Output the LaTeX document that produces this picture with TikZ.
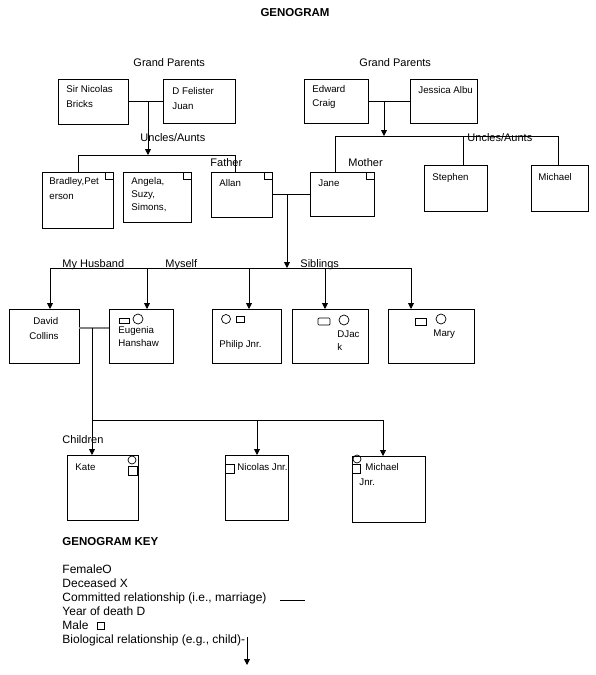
\documentclass[tikz,border=0pt]{standalone}
\usepackage{fontspec}
\setmainfont{Liberation Sans}
\usetikzlibrary{arrows.meta}
\begin{document}
\begin{tikzpicture}[x=1pt,y=-1pt,line width=0.9pt,
  pbox/.style={draw, anchor=north west, inner sep=0pt, outer sep=0pt},
  bt/.style={anchor=base west, inner sep=0pt, font=\fontsize{9.7}{11}\selectfont},
  lt/.style={anchor=base west, inner sep=0pt, font=\fontsize{11}{13}\selectfont},
  kt/.style={anchor=base west, inner sep=0pt, font=\fontsize{12}{13}\selectfont},
  arr/.style={-{Triangle[length=6pt,width=6pt]}},
  marr/.style={draw=gray, line width=1.5pt},
  sym/.style={line width=0.7pt}]
\useasboundingbox (0,0) rectangle (595,675);
\fill[white] (0,0) rectangle (595,675);

% title
\node[anchor=base, inner sep=0pt, font=\bfseries\fontsize{11.5}{13}\selectfont] (title) at (295,16) {GENOGRAM};

% grandparents
\node[lt] (gpl) at (133,66) {Grand Parents};
\node[lt] (gpr) at (359,66) {Grand Parents};
\node[pbox, minimum width=70pt, minimum height=45pt] (snb) at (58,79) {};
\node[pbox, minimum width=72pt, minimum height=44pt] (dfj) at (163,79) {};
\node[pbox, minimum width=64pt, minimum height=44pt] (ec) at (304,79) {};
\node[pbox, minimum width=67pt, minimum height=44pt] (ja) at (410,79) {};
\node[bt] (tsnb1) at (66,92) {Sir Nicolas};
\node[bt] (tsnb2) at (66,107) {Bricks};
\node[bt] (tdfj1) at (172,94) {D Felister};
\node[bt] (tdfj2) at (172,109) {Juan};
\node[bt] (tec1) at (312,92) {Edward};
\node[bt] (tec2) at (312,106) {Craig};
\node[bt] (tja) at (418,93) {Jessica Albu};

% parents generation
\node[lt] (ula) at (140,141) {Uncles/Aunts};
\node[lt] (fat) at (210,166) {Father};
\node[lt] (ura) at (467,141) {Uncles/Aunts};
\node[lt] (mot) at (348,166) {Mother};
\node[pbox, minimum width=71pt, minimum height=56pt] (bradley) at (42,172) {};
\node[pbox, minimum width=68pt, minimum height=50pt] (angela) at (123,172) {};
\node[pbox, minimum width=61pt, minimum height=45pt] (allan) at (211,172) {};
\node[pbox, minimum width=64pt, minimum height=44pt] (jane) at (310,172) {};
\node[pbox, minimum width=63pt, minimum height=46pt] (stephen) at (424,165) {};
\node[pbox, minimum width=57pt, minimum height=46pt] (michael) at (531,165) {};
\foreach \b in {bradley,angela,allan,jane}
  \draw[line width=0.7pt] ([xshift=-8pt]\b.north east) -- ++(0,7) -- ++(8,0);
\node[bt] (tbr1) at (49,184) {Bradley,Pet};
\node[bt] (tbr2) at (49,199) {erson};
\node[bt] (tan1) at (131,184) {Angela,};
\node[bt] (tan2) at (131,197) {Suzy,};
\node[bt] (tan3) at (131,210) {Simons,};
\node[bt] (tal) at (219,186) {Allan};
\node[bt] (tja2) at (318,186) {Jane};
\node[bt] (tst) at (432,180) {Stephen};
\node[bt] (tmi) at (538,180) {Michael};

% my generation
\node[lt] (lhus) at (62,267) {My Husband};
\node[lt] (lmys) at (165,267) {Myself};
\node[lt] (lsib) at (300,267) {Siblings};
\node[pbox, minimum width=70pt, minimum height=54pt] (david) at (9,309) {};
\node[pbox, minimum width=64pt, minimum height=54pt] (eugenia) at (109,309) {};
\node[pbox, minimum width=69pt, minimum height=54pt] (philip) at (212,309) {};
\node[pbox, minimum width=76pt, minimum height=54pt] (djack) at (292,309) {};
\node[pbox, minimum width=86pt, minimum height=54pt] (mary) at (388,309) {};
\node[bt] (tda1) at (33,324) {David};
\node[bt] (tda2) at (29,339) {Collins};
\node[bt] (teu1) at (118,333) {Eugenia};
\node[bt] (teu2) at (118,346) {Hanshaw};
\node[bt] (tph) at (219,347) {Philip Jnr.};
\node[bt] (tdj1) at (337,337) {DJac};
\node[bt] (tdj2) at (337,350) {k};
\node[bt] (tma) at (433,336) {Mary};
% symbols
\draw[sym] (119,318) rectangle (129,323);  \draw[sym] (138,319) circle (5);
\draw[sym] (226,319) circle (4.5);        \draw[sym] (236,316) rectangle (244,322);
\draw[sym, rounded corners=1pt] (318,318) rectangle (330,325); \draw[sym] (344,320) circle (5);
\draw[sym] (415,318) rectangle (426,325); \draw[sym] (441,319) circle (5);

% children
\node[lt] (lch) at (62,443) {Children};
\node[pbox, minimum width=71pt, minimum height=65pt] (kate) at (67,455) {};
\node[pbox, minimum width=63pt, minimum height=65pt] (nicolas) at (225,455) {};
\node[pbox, minimum width=73pt, minimum height=66pt] (michaelj) at (352,456) {};
\node[bt] (tka) at (75,470) {Kate};
\node[bt] (tni) at (237,470) {Nicolas Jnr.};
\node[bt] (tmj1) at (365,470) {Michael};
\node[bt] (tmj2) at (359,485) {Jnr.};
\draw[sym] (132,460) circle (4);  \draw[sym] (128,466) rectangle (137,475);
\draw[sym] (225,464) rectangle (234,473);
\draw[sym] (357,459) circle (4);  \draw[sym] (352,464) rectangle (360,473);

% ---- connectors ----
% left grandparents
\draw (snb.east) -- (snb.east -| dfj.west);
\coordinate (gpL) at (148,101.5);
\coordinate (uL) at (148,155);
\draw[arr] (gpL) -- (uL);
\coordinate (uL1) at (78,155);
\coordinate (uL2) at (235,155);
\draw (uL1 |- bradley.north) -- (uL1) -- (uL2) -- (uL2 |- allan.north);
% right grandparents
\draw (ec.east) -- (ec.east -| ja.west);
\coordinate (gpR) at (384,101);
\coordinate (uR) at (384,136);
\draw[arr] (gpR) -- (uR);
\coordinate (rA) at (335,136);
\coordinate (rS) at (463,136);
\coordinate (rB) at (558,136);
\draw (rA |- jane.north) -- (rA) -- (rB) -- (rB |- michael.north);
\draw (rS) -- (rS |- stephen.north);
% parents
\draw (allan.east) -- (allan.east -| jane.west);
\coordinate (pj) at (287,194.5);
\coordinate (sj) at (287,268);
\draw[arr] (pj) -- (sj);
\coordinate (s1) at (50,268);
\coordinate (s2) at (147,268);
\coordinate (s3) at (249,268);
\coordinate (s4) at (325,268);
\coordinate (s5) at (411,268);
\draw (s1) -- (s5);
\draw[arr] (s1) -- (s1 |- david.north);
\draw[arr] (s2) -- (s2 |- eugenia.north);
\draw[arr] (s3) -- (s3 |- philip.north);
\draw[arr] (s4) -- (s4 |- djack.north);
\draw[arr] (s5) -- (s5 |- mary.north);
% my marriage
\coordinate (mDE) at (92,328);
\draw[marr] (mDE -| david.east) -- (mDE -| eugenia.west);
\draw[arr] (mDE) -- (mDE |- kate.north);
\coordinate (cL) at (92,420);
\coordinate (cM) at (257,420);
\coordinate (cR) at (383,420);
\draw (cL) -- (cR);
\draw[arr] (cM) -- (cM |- nicolas.north);
\draw[arr] (cR) -- (cR |- michaelj.north);

% key
\node[anchor=base west, inner sep=0pt, font=\bfseries\fontsize{11.5}{13}\selectfont] (key) at (62,545) {GENOGRAM KEY};
\node[kt] (k1) at (62,573) {FemaleO};
\node[kt] (k2) at (62,587) {Deceased X};
\node[kt] (k3) at (62,601) {Committed relationship (i.e., marriage)};
\node[kt] (k4) at (62,615) {Year of death D};
\node[kt] (k5) at (62,629) {Male};
\node[kt] (k6) at (62,643) {Biological relationship (e.g., child)-};
\coordinate (kc1) at (280,600);
\coordinate (kc2) at (305,600);
\draw (kc1) -- (kc2);
\draw[sym] (97,622) rectangle (104,629);
\coordinate (kA) at (247,637);
\coordinate (kB) at (247,665);
\draw[arr] (kA) -- (kB);
\end{tikzpicture}
\end{document}
